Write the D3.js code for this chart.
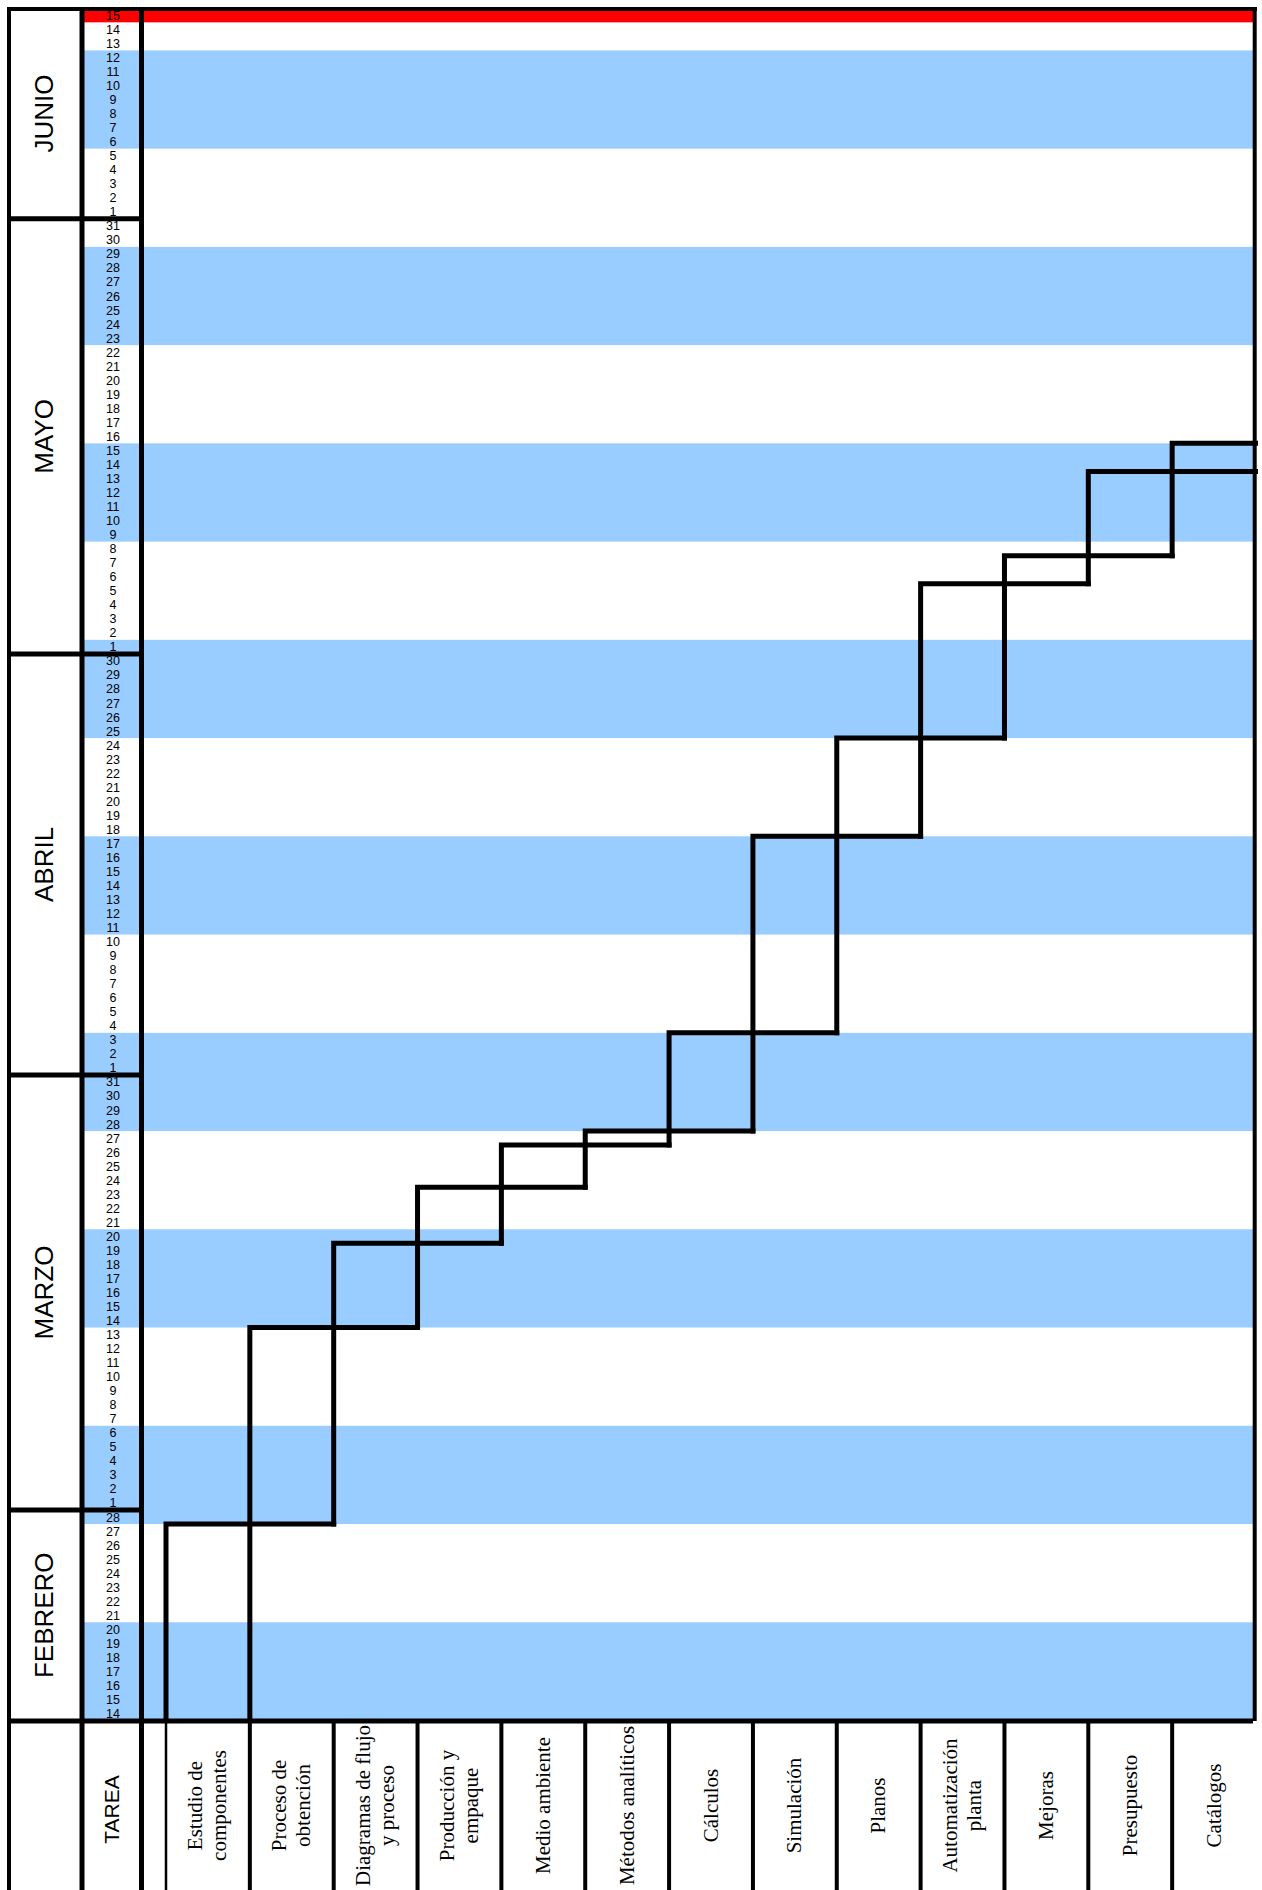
<!DOCTYPE html>
<meta charset="utf-8">
<script src="https://cdn.jsdelivr.net/npm/d3@7"></script>
<style type="text/css">
  body { margin: 0; background: #fff; }
  .day { font-family: "Liberation Sans", Arial, sans-serif; font-size: 12.5px; fill: #000; }
  .month { font-family: "Liberation Sans", Arial, sans-serif; font-size: 26px; fill: #000; }
  .tarea { font-family: "Liberation Sans", Arial, sans-serif; font-size: 21px; fill: #000; }
  .task { font-family: "Liberation Serif", "Times New Roman", serif; font-size: 21px; fill: #000; }
  .step { fill: none; stroke: #000; stroke-width: 5; stroke-linecap: square; }
</style>
<body>
<script>

var parseDay = d3.utcParse("%d/%m");

// months on the left column (start / end as day boundaries)
var months = ["FEBRERO", "MARZO", "ABRIL", "MAYO", "JUNIO"];
var monthStart = ["14/02", "01/03", "01/04", "01/05", "01/06"];
var monthEnd = ["01/03", "01/04", "01/05", "01/06", "16/06"];

// weeks shaded in blue (7 days each) and the current day in red
var blueWeeks = ["14/02", "28/02", "14/03", "28/03", "11/04", "25/04", "09/05", "23/05", "06/06"];
var today = "15/06";

// tasks, one column each ("\n" = line break in the header)
var tasks = [
    "Estudio de\ncomponentes",
    "Proceso de\nobtención",
    "Diagramas de flujo\ny proceso",
    "Producción y\nempaque",
    "Medio ambiente",
    "Métodos analíticos",
    "Cálculos",
    "Simulación",
    "Planos",
    "Automatización\nplanta",
    "Mejoras",
    "Presupuesto",
    "Catálogos"
];
var taskStart = ["14/02", "14/02", "28/02", "14/03", "20/03", "24/03", "27/03", "28/03", "04/04", "18/04", "25/04", "06/05", "08/05"];
var taskEnd   = ["28/02", "14/03", "20/03", "24/03", "27/03", "28/03", "04/04", "18/04", "25/04", "06/05", "08/05", "14/05", "16/05"];

var W = 1262, H = 1890,
    chartBottom = 1721,
    dayLeft = 84, dayRight = 1253;

var first = parseDay(monthStart[0]),
    last = parseDay(monthEnd[monthEnd.length - 1]);

// scales
var y = d3.scaleUtc()
    .domain([first, last])
    .range([1720.5, 8.3]);

var x = d3.scaleBand()
    .domain(tasks)
    .range([166, 1256]);

var svg = d3.select("body").append("svg")
    .attr("width", W)
    .attr("height", H);

svg.append("defs").append("clipPath")
    .attr("id", "clip")
  .append("rect")
    .attr("x", 0).attr("y", 0)
    .attr("width", 1258).attr("height", H);

// blue weeks
svg.append("g").selectAll("rect")
    .data(blueWeeks)
    .enter().append("rect")
        .attr("x", dayLeft)
        .attr("width", dayRight - dayLeft)
        .attr("y", d => y(d3.utcDay.offset(parseDay(d), 7)))
        .attr("height", d => y(parseDay(d)) - y(d3.utcDay.offset(parseDay(d), 7)))
        .style("fill", "#99ccff");

// today
svg.append("rect")
    .attr("x", dayLeft)
    .attr("width", dayRight - dayLeft)
    .attr("y", y(d3.utcDay.offset(parseDay(today), 1)))
    .attr("height", y(parseDay(today)) - y(d3.utcDay.offset(parseDay(today), 1)))
    .style("fill", "#ff0000");

// day numbers
var days = d3.utcDay.range(first, last);
svg.append("g").selectAll("text")
    .data(days)
    .enter().append("text")
        .attr("class", "day")
        .attr("x", 113)
        .attr("y", d => (y(d) + y(d3.utcDay.offset(d, 1))) / 2 + 4.5)
        .style("text-anchor", "middle")
        .text(d => d.getUTCDate());

// month names
svg.append("g").selectAll("text")
    .data(months)
    .enter().append("text")
        .attr("class", "month")
        .attr("transform", (d, i) => {
            var cy = (y(parseDay(monthStart[i])) + y(parseDay(monthEnd[i]))) / 2;
            return `translate(44,${cy}) rotate(-90)`;
        })
        .attr("y", 9.3)
        .style("text-anchor", "middle")
        .text(d => d);

// grid lines
var lines = svg.append("g").style("stroke", "#000");

function line(x1, y1, x2, y2, w) {
    lines.append("line")
        .attr("x1", x1).attr("y1", y1)
        .attr("x2", x2).attr("y2", y2)
        .style("stroke-width", w);
}

line(7, 9, 1257, 9, 4);               // top
line(1254.7, 7, 1254.7, chartBottom, 4); // right
line(7, chartBottom, 1253, chartBottom, 5);
line(9, 7, 9, H, 4);
line(82, 7, 82, H, 5);
line(141.5, 7, 141.5, H, 5);

monthStart.slice(1).forEach(m => line(7, y(parseDay(m)), 144, y(parseDay(m)), 5));

// header column separators
line(x(tasks[0]), chartBottom, x(tasks[0]), H, 2.5);
tasks.slice(1).forEach(t => line(x(t), chartBottom, x(t), H, 4));

// task steps: up along the column, then across two columns
svg.append("g")
    .attr("clip-path", "url(#clip)")
  .selectAll("path")
    .data(tasks)
    .enter().append("path")
        .attr("class", "step")
        .attr("d", (d, i) => {
            var x0 = x(d);
            return `M${x0},${y(parseDay(taskStart[i]))}V${y(parseDay(taskEnd[i]))}H${x0 + 2 * x.bandwidth()}`;
        });

// header
var headY = (chartBottom + H) / 2;

svg.append("text")
    .attr("class", "tarea")
    .attr("transform", `translate(111,${headY + 4}) rotate(-90)`)
    .attr("y", 7.5)
    .style("text-anchor", "middle")
    .text("TAREA");

var labels = svg.append("g").selectAll("text")
    .data(tasks)
    .enter().append("text")
        .attr("class", "task")
        .attr("transform", d => `translate(${x(d) + x.bandwidth() / 2},${headY}) rotate(-90)`)
        .style("text-anchor", "middle");

labels.selectAll("tspan")
    .data(d => {
        var parts = d.split("\n");
        return parts.map((p, i) => ({text: p, off: (i - (parts.length - 1) / 2) * 24}));
    })
    .enter().append("tspan")
        .attr("x", 0)
        .attr("y", d => d.off + 6.5)
        .text(d => d.text);

</script>
</body>
